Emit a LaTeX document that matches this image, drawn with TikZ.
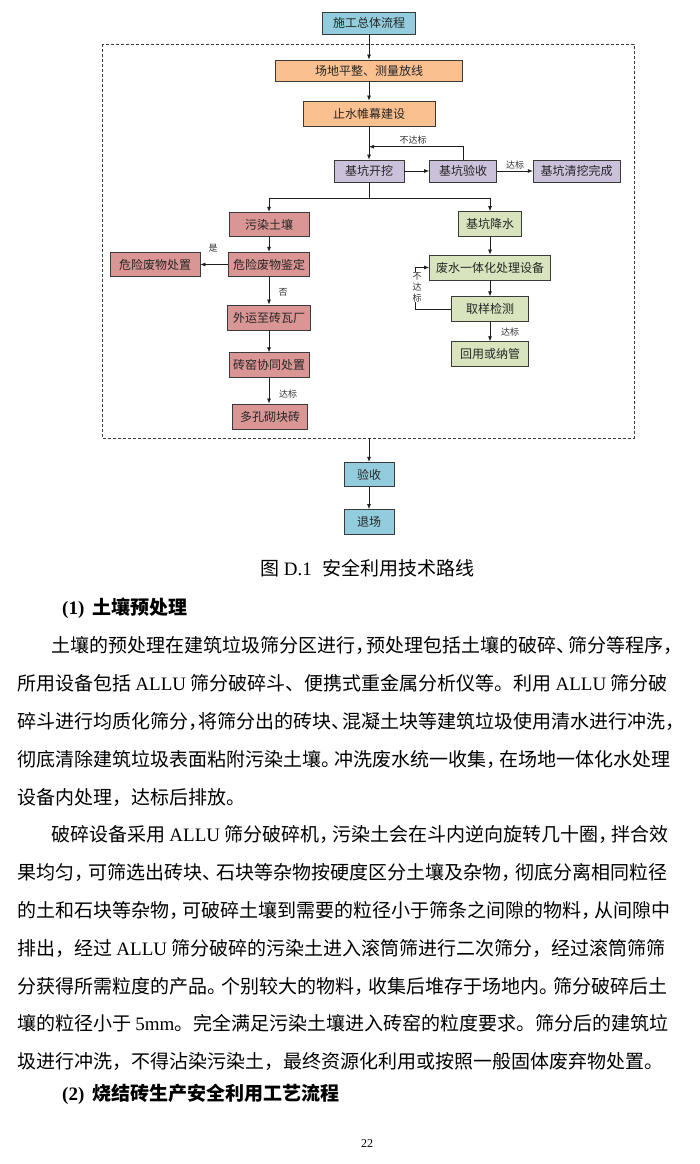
\documentclass[tikz,border=0pt]{standalone}
\usepackage{fontspec}
\setmainfont{Noto Sans CJK SC}
\newfontfamily\cjk{Noto Sans CJK SC}
\newfontfamily\tnr{Liberation Serif}
\usetikzlibrary{arrows.meta}
\XeTeXlinebreaklocale "zh"
\XeTeXlinebreakskip=0pt plus 4pt
\definecolor{cblue}{HTML}{93CDDD}
\definecolor{corange}{HTML}{FAC090}
\definecolor{cpurple}{HTML}{CCC1DA}
\definecolor{cred}{HTML}{D99694}
\definecolor{cgreen}{HTML}{D7E4BD}
\definecolor{boxline}{HTML}{3A3A3A}
\definecolor{lineblack}{HTML}{1E1E1E}
\newcommand\bodyfont{\cjk\fontsize{19}{22}\selectfont}
\newcommand\myfull{\parfillskip=0pt\relax\rightskip=0pt\relax\leftskip=0pt\relax\tolerance=10000\relax\noindent}
\newcommand\pk[1]{\kern-#1em\relax}
\tikzset{
  box/.style={draw=boxline, line width=0.8pt, inner sep=0pt, font=\cjk\fontsize{12}{14}\selectfont, text=black!85},
  bluebox/.style={box, fill=cblue},
  orbox/.style={box, fill=corange},
  pubox/.style={box, fill=cpurple},
  rdbox/.style={box, fill=cred},
  grbox/.style={box, fill=cgreen},
  ln/.style={line width=0.7pt, draw=lineblack},
  arr/.style={ln, -{Latex[length=5pt,width=4pt]}},
  lbl/.style={font=\cjk\fontsize{9}{10}\selectfont, inner sep=0.4pt, text=black!80},
  dashbox/.style={draw=boxline, line width=0.8pt, dash pattern=on 3pt off 2pt},
  jl/.style={anchor=base west, inner sep=0pt, text width=659pt, align=justify, font=\bodyfont},
  jli/.style={jl, text width=625pt},
  ll/.style={anchor=base west, inner sep=0pt, font=\bodyfont},
}
\begin{document}
\begin{tikzpicture}[x=1pt,y=-1pt]
\useasboundingbox (0,0) rectangle (699,1164);
\fill[white] (0,0) rectangle (699,1164);

% ---------- diagram ----------
\draw[dashbox] (102,44) rectangle (634,438);

\node[bluebox, minimum width=93pt, minimum height=22pt] (top) at (369,23) {施工总体流程};
\node[orbox, minimum width=187pt, minimum height=21pt] (b1) at (369,70.5) {场地平整、测量放线};
\node[orbox, minimum width=132pt, minimum height=25pt] (b2) at (369,113.5) {止水帷幕建设};
\node[pubox, minimum width=70pt, minimum height=22pt] (kw) at (369,171) {基坑开挖};
\node[pubox, minimum width=67pt, minimum height=22pt] (ys) at (463,171) {基坑验收};
\node[pubox, minimum width=87pt, minimum height=22pt] (wc) at (576.7,171) {基坑清挖完成};

\node[rdbox, minimum width=80pt, minimum height=24.5pt] (wr) at (269,224.5) {污染土壤};
\node[rdbox, minimum width=81pt, minimum height=24.5pt] (jd) at (269,264.5) {危险废物鉴定};
\node[rdbox, minimum width=90pt, minimum height=24.5pt] (cz) at (155,264.5) {危险废物处置};
\node[rdbox, minimum width=83pt, minimum height=25pt] (wy) at (269,317.5) {外运至砖瓦厂};
\node[rdbox, minimum width=80pt, minimum height=25pt] (zy) at (269,365.3) {砖窑协同处置};
\node[rdbox, minimum width=75pt, minimum height=25pt] (dk) at (270,416.5) {多孔砌块砖};

\node[grbox, minimum width=63pt, minimum height=25pt] (js) at (490,224) {基坑降水};
\node[grbox, minimum width=121pt, minimum height=25pt] (fs) at (490,267.5) {废水一体化处理设备};
\node[grbox, minimum width=77pt, minimum height=25pt] (jc) at (490,309.2) {取样检测};
\node[grbox, minimum width=77pt, minimum height=25pt] (hy) at (490,354.2) {回用或纳管};

\node[bluebox, minimum width=50pt, minimum height=24.5pt] (ysb) at (369,474.5) {验收};
\node[bluebox, minimum width=50pt, minimum height=24.5pt] (tc) at (369,521.7) {退场};

\draw[arr] (top) -- (b1);
\draw[arr] (b1) -- (b2);
\draw[arr] (b2) -- (kw);
\coordinate (lp) at (369,146.7);
\draw[arr] (ys.north) |- (lp);
\node[lbl] (nb1) at (413,140) {不达标};
\draw[arr] (kw) -- (ys);
\draw[arr] (ys) -- (wc);
\node[lbl] (db1) at (515,165) {达标};

\coordinate (sp) at (369,198.3);
\draw[ln] (kw) -- (sp);
\draw[arr] (sp) -| (wr.north);
\draw[arr] (sp) -| (js.north);

\draw[arr] (wr) -- (jd);
\draw[arr] (jd) -- (cz);
\node[lbl] (shi) at (213,248) {是};
\draw[arr] (jd) -- (wy);
\node[lbl] (fou) at (283,292) {否};
\draw[arr] (wy) -- (zy);
\draw[arr] (zy.south) -- (zy.south |- dk.north);
\node[lbl] (db2) at (288,394) {达标};

\draw[arr] (js) -- (fs);
\draw[arr] (fs) -- (jc);
\draw[arr] (jc) -- (hy);
\node[lbl] (db3) at (510,332) {达标};
\coordinate (lq) at (415,267.5);
\draw[arr] (jc.west) -| (lq) -- (fs.west);
\node[lbl, fill=white, align=center, font=\cjk\fontsize{9}{11}\selectfont] (nb2) at (417,287) {不\\达\\标};

\coordinate (dbot) at (369,438);
\draw[arr] (dbot) -- (ysb);
\draw[arr] (ysb) -- (tc);

% ---------- page text ----------
\node[anchor=base, inner sep=0pt, font=\bodyfont] (cap) at (367.5,575) {图 {\tnr D.1}\hspace{0.55em}安全利用技术路线};
\node[ll] (h1) at (62,614) {{\tnr\bfseries (1)}\hspace{0.45em}{\bfseries 土壤预处理}};

\node[jli] (l1) at (51,652) {\myfull 土壤的预处理在建筑垃圾筛分区进行，\pk{0.4}预处理包括土壤的破碎、\pk{0.4}筛分等程序，\pk{0.5}};
\node[jl] (l2) at (17,690) {\myfull 所用设备包括 {\tnr ALLU} 筛分破碎斗、便携式重金属分析仪等。利用 {\tnr ALLU} 筛分破};
\node[jl] (l3) at (17,728) {\myfull 碎斗进行均质化筛分，\pk{0.45}将筛分出的砖块、\pk{0.45}混凝土块等建筑垃圾使用清水进行冲洗，\pk{0.5}};
\node[jl] (l4) at (17,766) {\myfull 彻底清除建筑垃圾表面粘附污染土壤。\pk{0.3}冲洗废水统一收集，\pk{0.3}在场地一体化水处理};
\node[ll] (l5) at (17,804) {设备内处理，达标后排放。};

\node[jli] (l6) at (51,841) {\myfull 破碎设备采用 {\tnr ALLU} 筛分破碎机，\pk{0.3}污染土会在斗内逆向旋转几十圈，\pk{0.3}拌合效};
\node[jl] (l7) at (17,879) {\myfull 果均匀，\pk{0.25}可筛选出砖块、\pk{0.25}石块等杂物按硬度区分土壤及杂物，\pk{0.25}彻底分离相同粒径};
\node[jl] (l8) at (17,917) {\myfull 的土和石块等杂物，\pk{0.3}可破碎土壤到需要的粒径小于筛条之间隙的物料，\pk{0.3}从间隙中};
\node[jl] (l9) at (17,955) {\myfull 排出，经过 {\tnr ALLU} 筛分破碎的污染土进入滚筒筛进行二次筛分，经过滚筒筛筛};
\node[jl] (l10) at (17,993) {\myfull 分获得所需粒度的产品。\pk{0.25}个别较大的物料，\pk{0.25}收集后堆存于场地内。\pk{0.25}筛分破碎后土};
\node[jl] (l11) at (17,1030) {\myfull 壤的粒径小于 {\tnr 5mm}。完全满足污染土壤进入砖窑的粒度要求。筛分后的建筑垃};
\node[ll] (l12) at (17,1068) {圾进行冲洗，不得沾染污染土，最终资源化利用或按照一般固体废弃物处置。};

\node[ll] (h2) at (62,1100) {{\tnr\bfseries (2)}\hspace{0.45em}{\bfseries 烧结砖生产安全利用工艺流程}};

\node[anchor=base, inner sep=0pt, font=\tnr\fontsize{12}{14}\selectfont] (pg) at (367,1147) {22};
\end{tikzpicture}
\end{document}
